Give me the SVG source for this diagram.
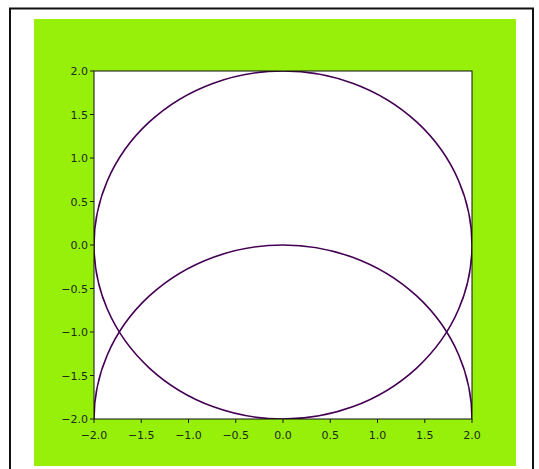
<svg xmlns="http://www.w3.org/2000/svg" width="539" height="469" viewBox="0 0 539 469">
<style>
.t{font-family:"DejaVu Sans",sans-serif;font-size:11px;fill:#1e2a1a}
.x{text-anchor:middle}
.y{text-anchor:end}
.tick{stroke:#1a1a1a;stroke-width:1}
.c{fill:none;stroke:#440154;stroke-width:1.6}
</style>
<defs><clipPath id="pa"><rect x="94" y="71" width="378" height="348"/></clipPath></defs>
<rect x="0" y="0" width="539" height="469" fill="#fff"/>
<path d="M10 470 V8.5 H533 V470" fill="none" stroke="#111" stroke-width="2"/>
<rect x="34" y="19" width="482" height="447" fill="#96f00a"/>
<rect x="94" y="71" width="378" height="348" fill="#fff"/>
<g id="curves" clip-path="url(#pa)">
<ellipse class="c" cx="283" cy="245" rx="189" ry="174"/>
<ellipse class="c" cx="283" cy="419" rx="189" ry="174"/>
</g>
<rect x="94" y="71" width="378" height="348" fill="none" stroke="#111" stroke-width="1"/>
<g id="xticks">
<path class="tick" d="M94 419v4M141.25 419v4M188.5 419v4M235.75 419v4M283 419v4M330.25 419v4M377.5 419v4M424.75 419v4M472 419v4"/>
<text class="t x" x="94" y="439">−2.0</text>
<text class="t x" x="141.25" y="439">−1.5</text>
<text class="t x" x="188.5" y="439">−1.0</text>
<text class="t x" x="235.75" y="439">−0.5</text>
<text class="t x" x="283" y="439">0.0</text>
<text class="t x" x="330.25" y="439">0.5</text>
<text class="t x" x="377.5" y="439">1.0</text>
<text class="t x" x="424.75" y="439">1.5</text>
<text class="t x" x="472" y="439">2.0</text>
</g>
<g id="yticks">
<path class="tick" d="M90 71h4M90 114.5h4M90 158h4M90 201.5h4M90 245h4M90 288.5h4M90 332h4M90 375.5h4M90 419h4"/>
<text class="t y" x="88" y="75">2.0</text>
<text class="t y" x="88" y="118.5">1.5</text>
<text class="t y" x="88" y="162">1.0</text>
<text class="t y" x="88" y="205.5">0.5</text>
<text class="t y" x="88" y="249">0.0</text>
<text class="t y" x="88" y="292.5">−0.5</text>
<text class="t y" x="88" y="336">−1.0</text>
<text class="t y" x="88" y="379.5">−1.5</text>
<text class="t y" x="88" y="423">−2.0</text>
</g>
</svg>
